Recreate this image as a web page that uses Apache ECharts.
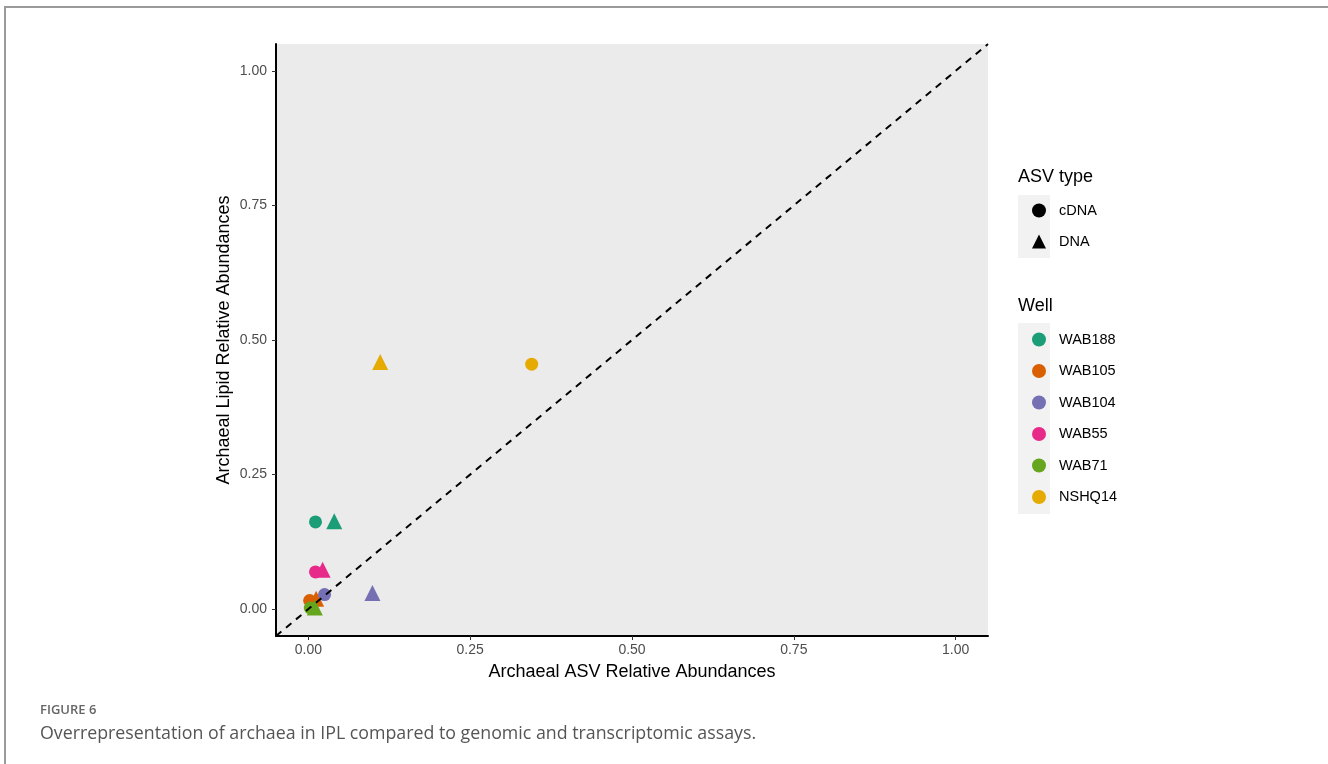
<!DOCTYPE html>
<html>
<head>
<meta charset="utf-8">
<script src="https://cdn.jsdelivr.net/npm/echarts@6/dist/echarts.min.js"></script>
<style>
  html, body { margin: 0; padding: 0; background: #fff; }
  #frame { position: absolute; left: 4px; top: 6px; width: 1322px; height: 800px;
           border-left: 2px solid #9a9a9a; border-top: 2px solid #9a9a9a; border-right: 2px solid #9a9a9a; }
  #chart { position: absolute; left: 0; top: 0; width: 1328px; height: 764px; }
  #cap1 { position: absolute; left: 40px; top: 700px; font-family: "Open Sans", sans-serif;
          font-size: 13px; color: #666; font-weight: 600; }
  #cap2 { position: absolute; left: 40px; top: 720px; font-family: "Open Sans", sans-serif;
          font-size: 17.8px; color: #555; }
</style>
</head>
<body>
<div id="frame"></div>
<div id="chart"></div>
<div id="cap1">FIGURE 6</div>
<div id="cap2">Overrepresentation of archaea in IPL compared to genomic and transcriptomic assays.</div>
<script>
// Wells and their colours
const wells = ['WAB188', 'WAB105', 'WAB104', 'WAB55', 'WAB71', 'NSHQ14'];
const wellColors = ['#1B9E77', '#D95F02', '#7570B3', '#E7298A', '#66A61E', '#E6AB02'];
const asvTypes = ['cDNA', 'DNA'];

// Archaeal ASV relative abundance (x) and lipid relative abundance (y), per well
const cdnaAsv   = [0.011, 0.002, 0.025, 0.011, 0.003, 0.345];
const cdnaLipid = [0.162, 0.016, 0.027, 0.069, 0.002, 0.455];
const dnaAsv    = [0.040, 0.012, 0.099, 0.022, 0.010, 0.111];
const dnaLipid  = [0.163, 0.019, 0.030, 0.073, 0.003, 0.459];

const tickValues = [0, 0.25, 0.5, 0.75, 1];
const axisMin = -0.05, axisMax = 1.05;

const chart = echarts.init(document.getElementById('chart'));

const font = 'Liberation Sans, Arial, sans-serif';

const wellSeries = wells.map((w, i) => ({
  name: w,
  type: 'scatter',
  z: 3,
  itemStyle: { color: wellColors[i], opacity: 1 },
  symbol: (v) => v[2] === 'DNA' ? 'triangle' : 'circle',
  symbolSize: (v) => v[2] === 'DNA' ? 16 : 13,
  data: [
    [cdnaAsv[i], cdnaLipid[i], 'cDNA'],
    [dnaAsv[i], dnaLipid[i], 'DNA']
  ]
}));

const typeSeries = asvTypes.map((t) => ({
  name: t,
  type: 'scatter',
  symbol: t === 'DNA' ? 'triangle' : 'circle',
  itemStyle: { color: '#000' },
  data: []
}));

const axisCommon = {
  type: 'value',
  min: axisMin,
  max: axisMax,
  splitLine: { show: false },
  axisLine: { show: true, onZero: false, lineStyle: { color: '#000', width: 2 } },
  axisTick: { show: true, length: 4, customValues: tickValues, lineStyle: { color: '#333', width: 1 } },
  axisLabel: {
    customValues: tickValues,
    formatter: (v) => v.toFixed(2),
    color: '#4D4D4D', fontSize: 14, fontFamily: font
  },
  nameLocation: 'middle',
  nameTextStyle: { color: '#000', fontSize: 18, fontFamily: font }
};

chart.setOption({
  animation: false,
  grid: {
    left: 276, top: 44, right: 340, bottom: 128,
    show: true, backgroundColor: '#EBEBEB', borderWidth: 0
  },
  xAxis: Object.assign({}, axisCommon, {
    name: 'Archaeal ASV Relative Abundances', nameGap: 27,
    axisLabel: Object.assign({}, axisCommon.axisLabel, { margin: 7 })
  }),
  yAxis: Object.assign({}, axisCommon, {
    name: 'Archaeal Lipid Relative Abundances', nameGap: 43, nameMoveOverlap: false,
    axisLabel: Object.assign({}, axisCommon.axisLabel, { margin: 9 })
  }),
  graphic: [
    { type: 'rect', left: 1018, top: 195, shape: { width: 32, height: 63 }, style: { fill: '#F2F2F2' }, z: 0 },
    { type: 'rect', left: 1018, top: 323, shape: { width: 32, height: 191 }, style: { fill: '#F2F2F2' }, z: 0 },
    { type: 'text', left: 1018, top: 168, style: { text: 'ASV type', fill: '#000', font: '18px ' + font } },
    { type: 'text', left: 1018, top: 297, style: { text: 'Well', fill: '#000', font: '18px ' + font } }
  ],
  legend: [
    {
      data: asvTypes.map((t) => ({ name: t, icon: t === 'DNA' ? 'triangle' : 'circle', itemStyle: { color: '#000', opacity: 1 } })),
      orient: 'vertical', left: 1027, top: 198,
      itemWidth: 14, itemHeight: 14, itemGap: 16,
      selectedMode: false,
      textStyle: { color: '#000', fontSize: 14.5, fontFamily: font, padding: [0, 0, 0, 8] }
    },
    {
      data: wells.map((w) => ({ name: w, icon: 'circle' })),
      orient: 'vertical', left: 1027, top: 327,
      itemWidth: 14, itemHeight: 14, itemGap: 16.5,
      selectedMode: false,
      textStyle: { color: '#000', fontSize: 14.5, fontFamily: font, padding: [0, 0, 0, 8] }
    }
  ],
  series: [
    {
      name: 'identity',
      type: 'line',
      z: 4,
      symbol: 'none',
      silent: true,
      lineStyle: { color: '#000', width: 2, type: [7, 6] },
      data: [[axisMin, axisMin], [axisMax, axisMax]]
    }
  ].concat(wellSeries, typeSeries)
});
</script>
</body>
</html>
